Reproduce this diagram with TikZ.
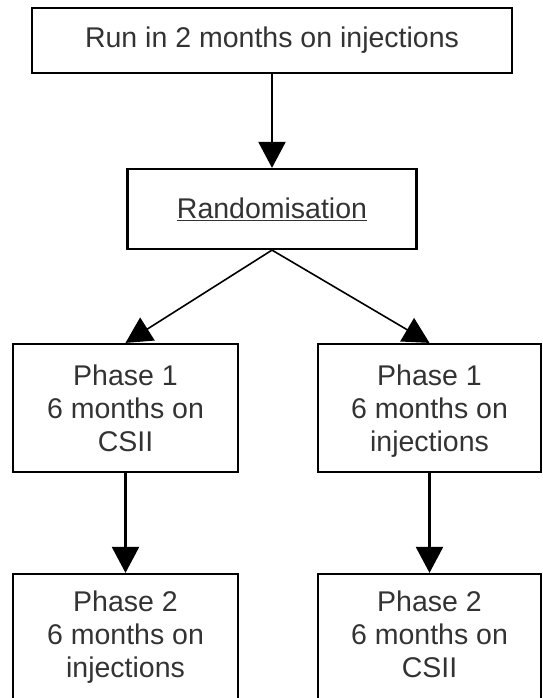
\documentclass[tikz,border=0pt]{standalone}
\usepackage{fontspec}
\setmainfont{Liberation Sans}
\usetikzlibrary{arrows.meta}
\definecolor{txt}{HTML}{333333}
\newcommand{\nodepth}[2][0pt]{\raisebox{0pt}[\height][#1]{#2}}
\begin{document}
\begin{tikzpicture}[x=1pt,y=-1pt,
  box/.style={draw=black, line width=2.2pt, rectangle, inner sep=0pt, align=center,
    text=txt, font=\fontsize{28.5}{33}\selectfont},
  conn/.style={line width=2.2pt, -{Triangle[length=26pt,width=27pt]}},
  diag/.style={line width=1.6pt, -{Triangle[length=26pt,width=27pt]}}]
\path[use as bounding box] (0,0) rectangle (542,698);
\clip (0,0) rectangle (542,698);
\node[box, minimum width=480pt, minimum height=65pt] (top) at (272,40.5) {Run in 2 months on injections};
\node[box, minimum width=289pt, minimum height=80pt] (rand) at (272,209) {\underline{Randomisation}};
\node[box, minimum width=225pt, minimum height=128pt] (lp1) at (125.5,408) {Phase 1\\6 months on\\\nodepth{CSII}};
\node[box, minimum width=223pt, minimum height=128pt] (rp1) at (429.5,408) {Phase 1\\6 months on\\\nodepth{injections}};
\node[box, minimum width=225pt, minimum height=128pt] (lp2) at (125.5,638) {Phase 2\\6 months on\\\nodepth[8pt]{injections}};
\node[box, minimum width=223pt, minimum height=128pt] (rp2) at (429.5,638) {Phase 2\\6 months on\\\nodepth[8pt]{CSII}};
\draw[conn] (top.south) -- (rand.north);
\draw[diag] (rand.south) -- (lp1.north);
\draw[diag] (rand.south) -- (rp1.north);
\draw[conn] (lp1.south) -- (lp2.north);
\draw[conn] (rp1.south) -- (rp2.north);
\end{tikzpicture}
\end{document}
